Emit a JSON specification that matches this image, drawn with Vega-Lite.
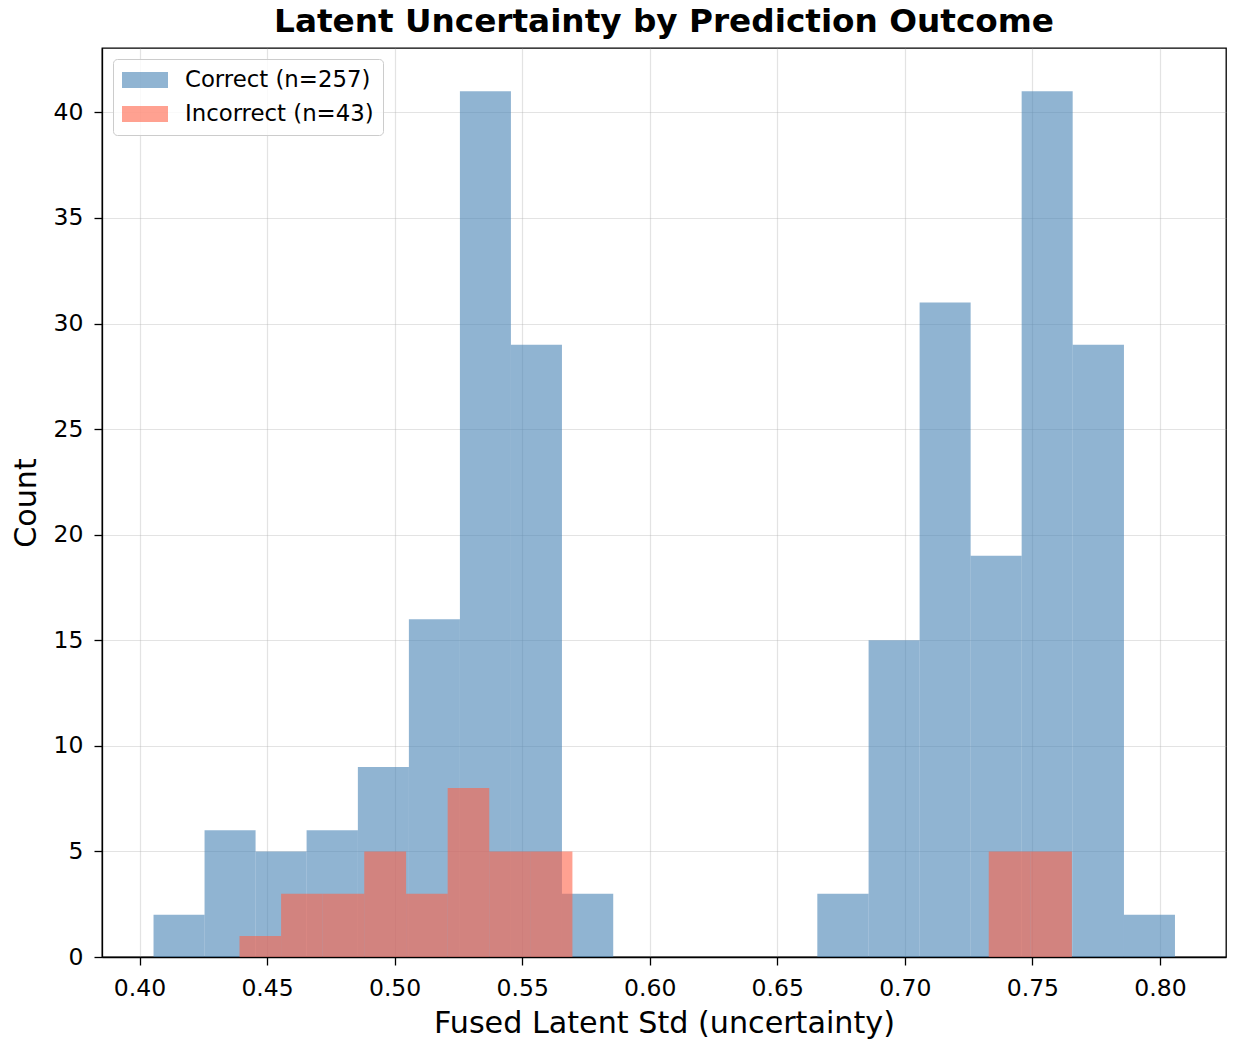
{
  "$schema": "https://vega.github.io/schema/vega-lite/v6.json",
  "width": 1124,
  "height": 909,
  "autosize": {"type": "none"},
  "padding": {"left": 102, "top": 48, "right": 9, "bottom": 85},
  "background": "white",
  "title": {
    "text": "Latent Uncertainty by Prediction Outcome",
    "font": "DejaVu Sans",
    "fontSize": 32.7,
    "fontWeight": "bold",
    "color": "#000000",
    "anchor": "middle",
    "frame": "group",
    "baseline": "alphabetic",
    "offset": 17,
    "dy": 34
  },
  "data": {
    "values": [
      {"group": "Correct (n=257)", "x0": 0.4055, "x1": 0.4255, "count": 2},
      {"group": "Correct (n=257)", "x0": 0.4255, "x1": 0.4455, "count": 6},
      {"group": "Correct (n=257)", "x0": 0.4455, "x1": 0.4655, "count": 5},
      {"group": "Correct (n=257)", "x0": 0.4655, "x1": 0.4856, "count": 6},
      {"group": "Correct (n=257)", "x0": 0.4856, "x1": 0.5056, "count": 9},
      {"group": "Correct (n=257)", "x0": 0.5056, "x1": 0.5256, "count": 16},
      {"group": "Correct (n=257)", "x0": 0.5256, "x1": 0.5456, "count": 41},
      {"group": "Correct (n=257)", "x0": 0.5456, "x1": 0.5656, "count": 29},
      {"group": "Correct (n=257)", "x0": 0.5656, "x1": 0.5857, "count": 3},
      {"group": "Correct (n=257)", "x0": 0.6657, "x1": 0.6858, "count": 3},
      {"group": "Correct (n=257)", "x0": 0.6858, "x1": 0.7058, "count": 15},
      {"group": "Correct (n=257)", "x0": 0.7058, "x1": 0.7258, "count": 31},
      {"group": "Correct (n=257)", "x0": 0.7258, "x1": 0.7458, "count": 19},
      {"group": "Correct (n=257)", "x0": 0.7458, "x1": 0.7658, "count": 41},
      {"group": "Correct (n=257)", "x0": 0.7658, "x1": 0.7859, "count": 29},
      {"group": "Correct (n=257)", "x0": 0.7859, "x1": 0.8059, "count": 2},
      {"group": "Incorrect (n=43)", "x0": 0.4392, "x1": 0.4555, "count": 1},
      {"group": "Incorrect (n=43)", "x0": 0.4555, "x1": 0.4718, "count": 3},
      {"group": "Incorrect (n=43)", "x0": 0.4718, "x1": 0.4881, "count": 3},
      {"group": "Incorrect (n=43)", "x0": 0.4881, "x1": 0.5045, "count": 5},
      {"group": "Incorrect (n=43)", "x0": 0.5045, "x1": 0.5208, "count": 3},
      {"group": "Incorrect (n=43)", "x0": 0.5208, "x1": 0.5371, "count": 8},
      {"group": "Incorrect (n=43)", "x0": 0.5371, "x1": 0.5534, "count": 5},
      {"group": "Incorrect (n=43)", "x0": 0.5534, "x1": 0.5697, "count": 5},
      {"group": "Incorrect (n=43)", "x0": 0.7329, "x1": 0.7492, "count": 5},
      {"group": "Incorrect (n=43)", "x0": 0.7492, "x1": 0.7655, "count": 5}
    ]
  },
  "mark": {"type": "rect", "opacity": 0.6, "strokeWidth": 0},
  "encoding": {
    "x": {
      "field": "x0",
      "type": "quantitative",
      "scale": {"domain": [0.3853, 0.8259], "nice": false, "zero": false},
      "axis": {
        "title": "Fused Latent Std (uncertainty)",
        "values": [0.4, 0.45, 0.5, 0.55, 0.6, 0.65, 0.7, 0.75, 0.8],
        "format": ".2f",
        "titlePadding": 9
      }
    },
    "x2": {"field": "x1"},
    "y": {
      "field": "count",
      "type": "quantitative",
      "scale": {"domain": [0, 43.05], "nice": false},
      "axis": {
        "title": "Count",
        "values": [0, 5, 10, 15, 20, 25, 30, 35, 40],
        "titlePadding": 12
      }
    },
    "y2": {"datum": 0},
    "color": {
      "field": "group",
      "type": "nominal",
      "scale": {
        "domain": ["Correct (n=257)", "Incorrect (n=43)"],
        "range": ["steelblue", "tomato"]
      },
      "legend": {
        "title": null,
        "orient": "top-left",
        "offset": 11,
        "symbolType": "M-1.9167,-0.6667H1.9167V0.6667H-1.9167Z",
        "symbolSize": 576,
        "symbolOffset": 11,
        "symbolOpacity": 0.6,
        "symbolStrokeWidth": 0,
        "labelFontSize": 22.8,
        "labelFont": "DejaVu Sans",
        "labelColor": "#000000",
        "labelOffset": 28,
        "labelLimit": 0,
        "rowPadding": 10,
        "padding": 9,
        "fillColor": "rgba(255,255,255,0.8)",
        "strokeColor": "#cccccc",
        "cornerRadius": 4
      }
    }
  },
  "config": {
    "font": "DejaVu Sans",
    "view": {"stroke": "#000000", "strokeWidth": 1.3},
    "axis": {
      "zindex": 1,
      "domain": true,
      "domainColor": "#000000",
      "domainWidth": 1.3,
      "ticks": true,
      "tickColor": "#000000",
      "tickSize": 8,
      "tickWidth": 1.3,
      "labelFont": "DejaVu Sans",
      "labelFontSize": 23.5,
      "labelColor": "#000000",
      "labelPadding": 11,
      "titleFont": "DejaVu Sans",
      "titleFontSize": 30.2,
      "titleFontWeight": "normal",
      "titleColor": "#000000",
      "grid": true,
      "gridColor": "#b0b0b0",
      "gridOpacity": 0.35,
      "gridWidth": 1.2
    }
  }
}
